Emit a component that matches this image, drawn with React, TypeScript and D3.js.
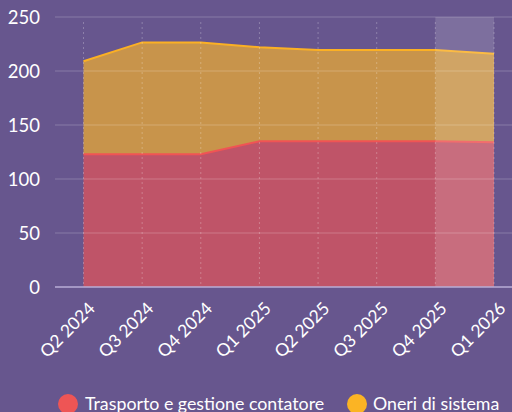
import { useEffect, useRef } from 'react';
import * as d3 from 'd3';

const quarters = ['Q2 2024', 'Q3 2024', 'Q4 2024', 'Q1 2025', 'Q2 2025', 'Q3 2025', 'Q4 2025', 'Q1 2026'];
const trasporto = [123, 123, 123, 135, 135, 135, 135, 134];
const oneri = [86, 103.5, 103.5, 87, 84.5, 84.5, 84.5, 82];
const yTicks = [0, 50, 100, 150, 200, 250];
const seriesNames = ['Trasporto e gestione contatore', 'Oneri di sistema'];

const W = 512;
const H = 412;
const FONT = 'Lato, "Noto Sans", sans-serif';

const App = () => {
  const svgRef = useRef<SVGSVGElement>(null);

  useEffect(() => {
    const svg = d3.select(svgRef.current);
    svg.selectAll('*').remove();

    const x = d3.scaleLinear().domain([0, quarters.length - 1]).range([83.5, 494]);
    const y = d3.scaleLinear().domain([0, 250]).range([287, 17]);

    svg.append('rect').attr('width', W).attr('height', H).attr('fill', '#67568e');

    const data = quarters.map((q, i) => ({ q, i, a: trasporto[i], b: oneri[i] }));

    // stacked areas
    const areaRed = d3.area<any>().x((d) => x(d.i)).y0(y(0)).y1((d) => y(d.a));
    const areaOrange = d3.area<any>().x((d) => x(d.i)).y0((d) => y(d.a)).y1((d) => y(d.a + d.b));

    svg.append('path').attr('d', areaOrange(data)).attr('fill', '#c8944b');
    svg.append('path').attr('d', areaRed(data)).attr('fill', '#bf5468');

    svg.append('path')
      .attr('d', d3.line<any>().x((d) => x(d.i)).y((d) => y(d.a + d.b))(data))
      .attr('fill', 'none').attr('stroke', '#fbb024').attr('stroke-width', 2);
    svg.append('path')
      .attr('d', d3.line<any>().x((d) => x(d.i)).y((d) => y(d.a))(data))
      .attr('fill', 'none').attr('stroke', '#f05454').attr('stroke-width', 2);

    // highlight of last period
    svg.append('rect')
      .attr('x', x(6)).attr('y', y(250))
      .attr('width', x(7) - x(6)).attr('height', y(0) - y(250))
      .attr('fill', 'rgba(255,255,255,0.15)');

    // grid
    svg.append('g').selectAll('line').data(yTicks.slice(1)).enter().append('line')
      .attr('x1', 55).attr('x2', W).attr('y1', (d) => y(d)).attr('y2', (d) => y(d))
      .attr('stroke', 'rgba(255,255,255,0.22)').attr('stroke-width', 1);

    svg.append('g').selectAll('line').data(data).enter().append('line')
      .attr('x1', (d) => x(d.i)).attr('x2', (d) => x(d.i))
      .attr('y1', 22).attr('y2', y(0))
      .attr('stroke', 'rgba(255,255,255,0.25)').attr('stroke-width', 1)
      .attr('stroke-dasharray', '2,3');

    svg.append('line')
      .attr('x1', 55).attr('x2', W).attr('y1', y(0)).attr('y2', y(0))
      .attr('stroke', '#b9aed6').attr('stroke-width', 1.5);

    // y labels
    svg.append('g').selectAll('text').data(yTicks).enter().append('text')
      .attr('x', 40).attr('y', (d) => y(d)).attr('dy', '0.36em')
      .attr('text-anchor', 'end').attr('fill', '#fff')
      .attr('font-family', FONT).attr('font-size', 18.5)
      .text((d) => d);

    // x labels
    svg.append('g').selectAll('text').data(data).enter().append('text')
      .attr('transform', (d) => `translate(${x(d.i) + 4},${301}) rotate(-45)`)
      .attr('text-anchor', 'end').attr('dy', '0.7em').attr('fill', '#fff')
      .attr('font-family', FONT).attr('font-size', 17.5)
      .text((d) => d.q);

    // legend
    const legend = [
      { name: seriesNames[0], color: '#ee5555', cx: 68, tx: 85 },
      { name: seriesNames[1], color: '#fbb424', cx: 357, tx: 373 },
    ];
    const lg = svg.append('g').selectAll('g').data(legend).enter().append('g');
    lg.append('circle').attr('cx', (d) => d.cx).attr('cy', 404).attr('r', 10).attr('fill', (d) => d.color);
    lg.append('text').attr('x', (d) => d.tx).attr('y', 410)
      .attr('fill', '#fff').attr('font-family', FONT).attr('font-size', 17.8)
      .text((d) => d.name);
  }, []);

  return (
    <div style={{ position: 'absolute', left: 0, top: 0 }}>
      <svg ref={svgRef} width={W} height={H} style={{ display: 'block' }}></svg>
    </div>
  );
};

export default App;
